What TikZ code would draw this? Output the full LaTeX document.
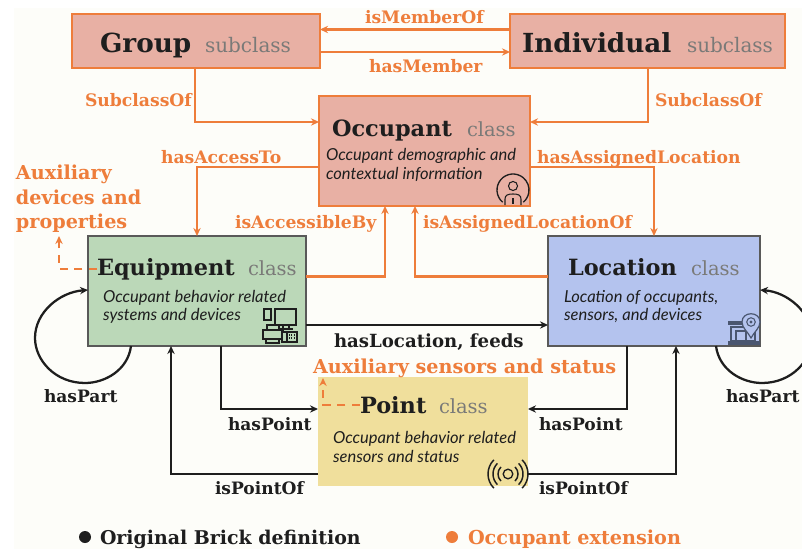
\documentclass[tikz,border=0pt]{standalone}
\usepackage{fontspec}
\setmainfont{DejaVu Serif}
\newfontfamily\handfont{Lato}
\usetikzlibrary{arrows.meta}
\definecolor{extorange}{HTML}{EE7D3B}
\definecolor{inkblack}{HTML}{1E1E1E}
\definecolor{occfill}{HTML}{E8B0A4}
\definecolor{equipfill}{HTML}{BBD8B8}
\definecolor{locfill}{HTML}{B4C3EE}
\definecolor{pointfill}{HTML}{F0DF9C}
\definecolor{paper}{HTML}{FDFDF9}
\definecolor{kindgray}{HTML}{7A7A78}
\definecolor{iconslate}{HTML}{4A5670}
\tikzset{
  x=0.75pt,y=-0.75pt,
  >={Stealth[length=6pt,width=5.5pt]},
  box/.style={inner sep=0pt,outer sep=0pt},
  extbox/.style={box,draw=extorange,line width=1.8pt,fill=occfill,minimum height=40.5pt},
  brickbox/.style={box,draw=black!65,line width=0.9pt,minimum height=82.5pt},
  extline/.style={draw=extorange,line width=1.7pt},
  brickline/.style={draw=inkblack,line width=1.7pt},
  extdash/.style={extline,dash pattern=on 6pt off 5pt},
  txt/.style={inner sep=0pt,outer sep=0pt,anchor=base west},
  bigtitle/.style={txt,text=inkblack,font=\fontsize{19.7}{22}\selectfont\bfseries},
  title/.style={txt,text=inkblack,font=\fontsize{16.8}{20}\selectfont\bfseries},
  bigkind/.style={txt,text=kindgray,font=\fontsize{15}{18}\selectfont},
  kind/.style={txt,text=kindgray,font=\fontsize{14.6}{18}\selectfont},
  extlabel/.style={txt,text=extorange,font=\fontsize{12.9}{17}\selectfont\bfseries},
  extnote/.style={txt,text=extorange,font=\fontsize{14.4}{17}\selectfont\bfseries},
  bricklabel/.style={txt,text=inkblack,font=\fontsize{12.8}{17}\selectfont\bfseries},
  bricknote/.style={txt,text=inkblack,font=\fontsize{14.2}{17}\selectfont\bfseries},
  desc/.style={txt,text=inkblack,font=\fontsize{12.4}{14}\handfont\itshape},
  icon/.style={draw=inkblack,line width=0.8pt},
}
\begin{document}
\begin{tikzpicture}
  \clip (0,0) rectangle (802,549);
  \fill[white] (0,0) rectangle (802,549);
  \fill[paper] (14,8) rectangle (802,549);

  % boxes
  \node[extbox,minimum width=186pt] (group) at (196,41) {};
  \node[extbox,minimum width=206.25pt] (individual) at (647.5,41) {};
  \node[extbox,minimum width=158.25pt,minimum height=82.5pt] (occupant) at (424.5,151) {};
  \node[brickbox,fill=equipfill,minimum width=163.5pt] (equipment) at (197,291) {};
  \node[brickbox,fill=locfill,minimum width=159pt] (location) at (654,291) {};
  \node[box,fill=pointfill,minimum width=157.5pt,minimum height=81.75pt] (point) at (423,431.5) {};

  % orange links
  \draw[extline,->] (individual.west |- 0,29.5) -- (group.east |- 0,29.5);
  \draw[extline,->] (group.east |- 0,52) -- (individual.west |- 0,52);
  \draw[extline,->] (group.south -| 195,0) |- (occupant.west |- 0,122);
  \draw[extline,->] (individual.south -| 648,0) |- (occupant.east |- 0,122);
  \draw[extline,->] (occupant.west |- 0,167) -| (equipment.north -| 197,0);
  \draw[extline,->] (occupant.east |- 0,167) -| (location.north -| 654,0);
  \draw[extline,->] (equipment.east |- 0,276.5) -| (occupant.south -| 385,0);
  \draw[extline,->] (location.west |- 0,276.5) -| (occupant.south -| 415,0);

  % black links
  \draw[brickline,->] (equipment.east |- 0,325) -- (location.west |- 0,325);
  \draw[brickline,->] (equipment.south -| 221,0) |- (point.west |- 0,409);
  \draw[brickline,->] (location.south -| 627,0) |- (point.east |- 0,409);
  \draw[brickline,->] (point.west |- 0,474) -| (equipment.south -| 171,0);
  \draw[brickline,->] (point.east |- 0,474) -| (location.south -| 676,0);
  \draw[brickline,->] (equipment.south -| 131,0) .. controls (128,370) and (105,383) .. (85,383)
    .. controls (55,383) and (35,360) .. (35,338) .. controls (35,312) and (60,292) .. (equipment.west |- 0,290);
  \draw[brickline,->] (location.south -| 716,0) .. controls (719,370) and (742,383) .. (762,383)
    .. controls (792,383) and (812,360) .. (812,338) .. controls (812,312) and (787,292) .. (location.east |- 0,290);

  % titles
  \node[bigtitle] (grouptitle) at (100,53) {Group};
  \node[bigkind] (groupkind) at (205,53) {subclass};
  \node[bigtitle] (individualtitle) at (522,53) {Individual};
  \node[bigkind] (individualkind) at (687,53) {subclass};
  \node[title] (occupanttitle) at (332,137) {Occupant};
  \node[kind] (occupantkind) at (467,137) {class};
  \node[title] (equipmenttitle) at (97,275) {Equipment};
  \node[kind] (equipmentkind) at (248,275) {class};
  \node[title] (locationtitle) at (568,275) {Location};
  \node[kind] (locationkind) at (691,275) {class};
  \node[title] (pointtitle) at (360,413) {Point};
  \node[kind] (pointkind) at (439,413) {class};

  % dashed auxiliary links
  \draw[extdash,->] (equipmenttitle.west) -| (59,236);
  \draw[extdash,->] (pointtitle.west) -| (323,378);

  % descriptions
  \node[desc] (occupantdesca) at (326,161) {Occupant demographic and};
  \node[desc] (occupantdescb) at (326,180) {contextual information};
  \node[desc] (equipmentdesca) at (103,302) {Occupant behavior related};
  \node[desc] (equipmentdescb) at (103,320) {systems and devices};
  \node[desc] (locationdesca) at (564,302) {Location of occupants,};
  \node[desc] (locationdescb) at (564,320) {sensors, and devices};
  \node[desc] (pointdesca) at (333,443) {Occupant behavior related};
  \node[desc] (pointdescb) at (333,462) {sensors and status};

  % link labels
  \node[extlabel] (ismemberof) at (365,24) {isMemberOf};
  \node[extlabel] (hasmember) at (369,73) {hasMember};
  \node[extlabel] (subclassleft) at (85,107) {SubclassOf};
  \node[extlabel] (subclassright) at (655,107) {SubclassOf};
  \node[extlabel] (hasaccessto) at (161,163) {hasAccessTo};
  \node[extlabel] (hasassigned) at (537,163) {hasAssignedLocation};
  \node[extlabel] (isaccessible) at (235,228) {isAccessibleBy};
  \node[extlabel] (isassigned) at (423,228) {isAssignedLocationOf};
  \node[extnote] (auxa) at (16,180) {Auxiliary};
  \node[extnote] (auxb) at (16,204) {devices and};
  \node[extnote] (auxc) at (16,228) {properties};
  \node[extnote] (auxsensors) at (313,373) {Auxiliary sensors and status};
  \node[bricklabel,font=\fontsize{13.6}{17}\selectfont\bfseries] (haslocation) at (334,347) {hasLocation, feeds};
  \node[bricklabel] (haspartleft) at (44,402) {hasPart};
  \node[bricklabel] (haspartright) at (726,402) {hasPart};
  \node[bricklabel] (haspointleft) at (228,430) {hasPoint};
  \node[bricklabel] (haspointright) at (539,430) {hasPoint};
  \node[bricklabel] (ispointleft) at (215,494) {isPointOf};
  \node[bricklabel] (ispointright) at (539,494) {isPointOf};

  % legend
  \fill[inkblack] (85,537) circle (4.5pt);
  \node[bricknote] (legendbrick) at (100,544) {Original Brick definition};
  \fill[extorange] (452,537) circle (4.5pt);
  \node[extnote] (legendext) at (468,544) {Occupant extension};

  % person icon
  \draw[icon,line width=1pt] (513,190) ++(130:16) arc (130:410:16);
  \draw[icon] (513,186) circle (3.4pt);
  \draw[icon] (505,205) -- (505,199) .. controls (505,195) and (508,194) .. (513,194)
    .. controls (518,194) and (521,195) .. (521,199) -- (521,205);
  \draw[icon] (513,198) -- (513,204);

  % devices icon
  \draw[icon] (264,309) rectangle (271,320);
  \draw[icon] (275,309) rectangle (296,325);
  \draw[icon] (283,325) -- (283,329) (289,325) -- (289,329) (278,329) -- (293,329);
  \draw[icon,fill=equipfill] (263,330) rectangle (283,339);
  \draw[icon] (267,330) -- (267,325) -- (279,325) -- (279,330);
  \draw[icon] (266,339) rectangle (279,343);
  \draw[icon,fill=equipfill] (282,332) rectangle (297,342);
  \draw[icon] (287,332) -- (287,342);
  \foreach \gridrow in {335,338} \draw[icon,densely dotted] (289,\gridrow) -- (295,\gridrow);

  % location icon
  \draw[iconslate,line width=1pt] (731,327) rectangle (755,341);
  \fill[iconslate] (728,341) rectangle (760,345);
  \fill[iconslate] (728,321) rectangle (745,325);
  \draw[iconslate,line width=0.8pt] (736,331) rectangle (746,341);
  \draw[iconslate,line width=0.9pt,fill=locfill] (742,322) .. controls (742,311) and (760,311) .. (760,322)
    .. controls (760,328) and (754,332) .. (751,338) .. controls (748,332) and (742,328) .. (742,322) -- cycle;
  \draw[iconslate,line width=0.8pt] (751,322) circle (3.2pt);
  \fill[iconslate] (751,322) circle (1.2pt);

  % sensor icon
  \draw[icon,line width=1pt] (508,474) circle (3.6pt);
  \foreach \ringrad in {10,15,20} {
    \draw[icon,line width=1.1pt] (508,474) ++(45:\ringrad) arc (45:-45:\ringrad);
    \draw[icon,line width=1.1pt] (508,474) ++(135:\ringrad) arc (135:225:\ringrad);
  }
\end{tikzpicture}
\end{document}
